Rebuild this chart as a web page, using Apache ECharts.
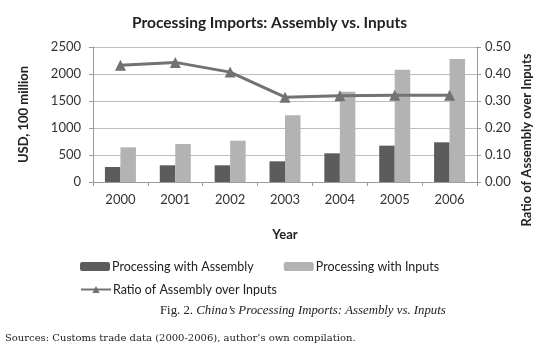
<!DOCTYPE html>
<html>
<head>
<meta charset="utf-8">
<script src="https://cdn.jsdelivr.net/npm/echarts@6/dist/echarts.min.js"></script>
<style>
html,body{margin:0;padding:0;background:#fff;}
#c{width:539px;height:348px;}
</style>
</head>
<body>
<div id="c"></div>
<script>
const years = ['2000','2001','2002','2003','2004','2005','2006'];
const assembly = [278, 309, 309, 383, 531, 673, 735];
const inputs = [642, 704, 765, 1235, 1673, 2080, 2278];
const ratio = [0.432, 0.443, 0.407, 0.314, 0.319, 0.321, 0.321];

const font = 'Lato';
const chart = echarts.init(document.getElementById('c'));
chart.setOption({
  animation: false,
  backgroundColor: '#fff',
  title: {
    text: 'Processing Imports: Assembly vs. Inputs',
    left: 'center', top: 10,
    textStyle: {fontFamily: font, fontSize: 15.5, fontWeight: 'bold', color: '#222'}
  },
  grid: {left: 93, right: 62, top: 47, bottom: 166},
  legend: [
    {
      data: ['Processing with Assembly', 'Processing with Inputs'],
      left: 75, top: 255, itemWidth: 30, itemHeight: 9, itemGap: 30,
      textStyle: {fontFamily: font, fontSize: 12.5, color: '#222', padding: [0,0,0,-3]}
    },
    {
      data: ['Ratio of Assembly over Inputs'],
      left: 75, top: 278, itemWidth: 30, itemHeight: 9,
      textStyle: {fontFamily: font, fontSize: 12.5, color: '#222', padding: [0,0,0,-3]}
    }
  ],
  xAxis: {
    type: 'category', data: years,
    name: 'Year', nameLocation: 'middle', nameGap: 46,
    nameTextStyle: {fontFamily: font, fontSize: 13, fontWeight: 'bold', color: '#222'},
    axisLine: {lineStyle: {color: '#9a9a9a'}},
    axisTick: {show: true, length: 4, lineStyle: {color: '#9a9a9a'}},
    axisLabel: {fontFamily: font, fontSize: 13, color: '#333', margin: 11}
  },
  yAxis: [
    {
      type: 'value', min: 0, max: 2500, interval: 500,
      name: 'USD, 100 million', nameLocation: 'middle', nameGap: 63,
      nameTextStyle: {fontFamily: font, fontSize: 13, fontWeight: 'bold', color: '#222'},
      axisLine: {show: true, lineStyle: {color: '#9a9a9a'}},
      axisTick: {show: true, length: 4, lineStyle: {color: '#9a9a9a'}},
      axisLabel: {fontFamily: font, fontSize: 13, color: '#333', margin: 12,
        formatter: v => String(v)},
      splitLine: {lineStyle: {color: '#bdbdbd'}}
    },
    {
      type: 'value', min: 0, max: 0.5, interval: 0.1,
      axisLine: {show: true, lineStyle: {color: '#9a9a9a'}},
      axisTick: {show: true, length: 4, lineStyle: {color: '#9a9a9a'}},
      axisLabel: {fontFamily: font, fontSize: 13, color: '#333', margin: 8,
        formatter: v => v.toFixed(2)},
      splitLine: {show: false}
    }
  ],
  series: [
    {
      name: 'Processing with Assembly', type: 'bar', data: assembly,
      barWidth: 15.5, barGap: '0%',
      itemStyle: {color: '#5c5c5c'}
    },
    {
      name: 'Processing with Inputs', type: 'bar', data: inputs,
      barWidth: 15.5, barGap: '0%',
      itemStyle: {color: '#b3b3b3'}
    },
    {
      name: 'Ratio of Assembly over Inputs', type: 'line', yAxisIndex: 1, data: ratio,
      symbol: 'triangle', symbolSize: 11,
      lineStyle: {color: '#727272', width: 3},
      itemStyle: {color: '#727272'}
    }
  ],
  graphic: [
    {
      type: 'text', x: 527, y: 140, rotation: Math.PI / 2,
      style: {
        text: 'Ratio of Assembly over Inputs',
        fontFamily: font, fontSize: 13, fontWeight: 'bold', fill: '#222',
        align: 'center', verticalAlign: 'middle'
      }
    },
    {
      type: 'text', left: 160, top: 304,
      style: {
        rich: {
          a: {fontFamily: 'Liberation Serif', fontSize: 12.8, fill: '#222'},
          b: {fontFamily: 'Liberation Serif', fontSize: 12.8, fontStyle: 'italic', fill: '#222'}
        },
        text: '{a|Fig. 2. }{b|China\u2019s Processing Imports: Assembly vs. Inputs}'
      }
    },
    {
      type: 'text', left: 5, top: 333,
      style: {
        text: 'Sources: Customs trade data (2000-2006), author\u2019s own compilation.',
        fontFamily: 'DejaVu Serif', fontSize: 10, fill: '#222'
      }
    }
  ]
});
</script>
</body>
</html>
